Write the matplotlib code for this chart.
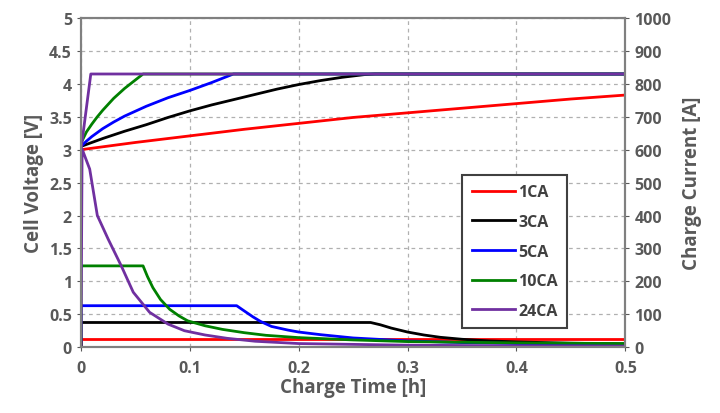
import matplotlib
matplotlib.use("Agg")
import matplotlib.pyplot as plt

labels = ["1CA", "3CA", "5CA", "10CA", "24CA"]
colors = ["#ff0000", "#000000", "#0000ff", "#008000", "#7030a0"]

# Voltage curves [V]
v_t = {
    "1CA": [0.0, 0.05, 0.1, 0.15, 0.2, 0.25, 0.3, 0.35, 0.4, 0.45, 0.5],
    "3CA": [0.0, 0.01, 0.02, 0.04, 0.06, 0.08, 0.1, 0.12, 0.14, 0.16, 0.18, 0.2,
            0.22, 0.24, 0.26, 0.27, 0.5],
    "5CA": [0.0, 0.005, 0.01, 0.02, 0.03, 0.04, 0.06, 0.08, 0.1, 0.12, 0.14, 0.5],
    "10CA": [0.0, 0.005, 0.01, 0.015, 0.02, 0.03, 0.04, 0.05, 0.057, 0.5],
    "24CA": [0.0, 0.009, 0.5],
}
v_v = {
    "1CA": [3.0, 3.11, 3.21, 3.31, 3.40, 3.49, 3.56, 3.63, 3.70, 3.77, 3.83],
    "3CA": [3.05, 3.11, 3.17, 3.28, 3.38, 3.49, 3.59, 3.68, 3.76, 3.84, 3.92, 3.99,
            4.05, 4.10, 4.14, 4.15, 4.15],
    "5CA": [3.05, 3.13, 3.20, 3.32, 3.42, 3.51, 3.66, 3.79, 3.90, 4.02, 4.15, 4.15],
    "10CA": [3.1, 3.27, 3.39, 3.50, 3.60, 3.78, 3.93, 4.06, 4.15, 4.15],
    "24CA": [3.0, 4.15, 4.15],
}

# Charge current curves [A]
i_t = {
    "1CA": [0.0, 0.0, 0.5],
    "3CA": [0.0, 0.0, 0.266, 0.275, 0.285, 0.3, 0.315, 0.33, 0.35, 0.375, 0.4, 0.45, 0.5],
    "5CA": [0.0, 0.0, 0.143, 0.15, 0.158, 0.165, 0.175, 0.19, 0.2, 0.22, 0.25, 0.3,
            0.35, 0.4, 0.5],
    "10CA": [0.0, 0.0, 0.057, 0.061, 0.066, 0.073, 0.0815, 0.09, 0.098, 0.114, 0.13,
             0.15, 0.17, 0.2, 0.25, 0.3, 0.4, 0.5],
    "24CA": [0.0, 0.001, 0.008, 0.015, 0.025, 0.037, 0.048, 0.063, 0.08, 0.095, 0.114,
             0.134, 0.16, 0.2, 0.3, 0.4, 0.5],
}
i_v = {
    "1CA": [0, 24, 24],
    "3CA": [0, 75, 75, 68, 58, 46, 37, 30, 24, 19, 16, 12, 10],
    "5CA": [0, 126, 126, 110, 92, 78, 63, 52, 46, 38, 28, 19, 14, 11, 8],
    "10CA": [0, 247, 247, 215, 181, 145, 115, 95, 80, 65, 54, 44, 36, 29, 22, 17, 13, 11],
    "24CA": [0, 602, 541, 400, 328, 247, 167, 106, 70, 50, 37, 27, 18, 11, 6, 4, 3],
}

x_ticks = [0, 0.1, 0.2, 0.3, 0.4, 0.5]
v_ticks = [0, 0.5, 1, 1.5, 2, 2.5, 3, 3.5, 4, 4.5, 5]
i_ticks = [0, 100, 200, 300, 400, 500, 600, 700, 800, 900, 1000]

plt.rcParams["font.family"] = ["Open Sans", "DejaVu Sans"]
plt.rcParams["font.weight"] = "bold"
gray = "#595959"

fig = plt.figure(figsize=(7.2, 4.14), dpi=100)
ax1 = fig.add_axes([0.1125, 0.159, 0.756, 0.795])
ax2 = ax1.twinx()

for lab, col in zip(labels, colors):
    ax1.plot(v_t[lab], v_v[lab], color=col, lw=2.0)
handles = []
for lab, col in zip(labels, colors):
    h, = ax2.plot(i_t[lab], i_v[lab], color=col, lw=2.0, label=lab)
    handles.append(h)

ax1.set_xlim(0, 0.5)
ax1.set_ylim(0, 5)
ax2.set_ylim(0, 1000)
ax1.set_xticks(x_ticks)
ax1.set_xticklabels(["0", "0.1", "0.2", "0.3", "0.4", "0.5"])
ax1.set_yticks(v_ticks)
ax1.set_yticklabels(["0", "0.5", "1", "1.5", "2", "2.5", "3", "3.5", "4", "4.5", "5"])
ax2.set_yticks(i_ticks)

ax1.grid(True, linestyle=(0, (3, 3)), color="#b0b0b0", lw=0.9)
ax1.set_axisbelow(True)

for ax in (ax1, ax2):
    for s in ax.spines.values():
        s.set_color("#808080")
        s.set_linewidth(1.5)
    ax.tick_params(colors=gray, labelsize=11.5, length=3, width=0.8)

ax1.tick_params(axis="x", pad=6)
ax1.set_xlabel("Charge Time [h]", fontsize=13.5, color=gray, fontweight="bold", labelpad=1)
ax1.set_ylabel("Cell Voltage [V]", fontsize=13.5, color=gray, fontweight="bold", labelpad=4)
ax2.set_ylabel("Charge Current [A]", fontsize=13.5, color=gray, fontweight="bold", labelpad=8)

leg = ax2.legend(handles=handles, loc="lower right", bbox_to_anchor=(0.908, 0.033),
                 fancybox=False, framealpha=1, edgecolor="#404040", fontsize=11.5,
                 handlelength=2.7, handletextpad=0.2, labelspacing=0.85, borderpad=0.6)
leg.get_frame().set_linewidth(1.5)
for t in leg.get_texts():
    t.set_color("#404040")
    t.set_fontweight("bold")

fig.savefig("out.png", dpi=100)
